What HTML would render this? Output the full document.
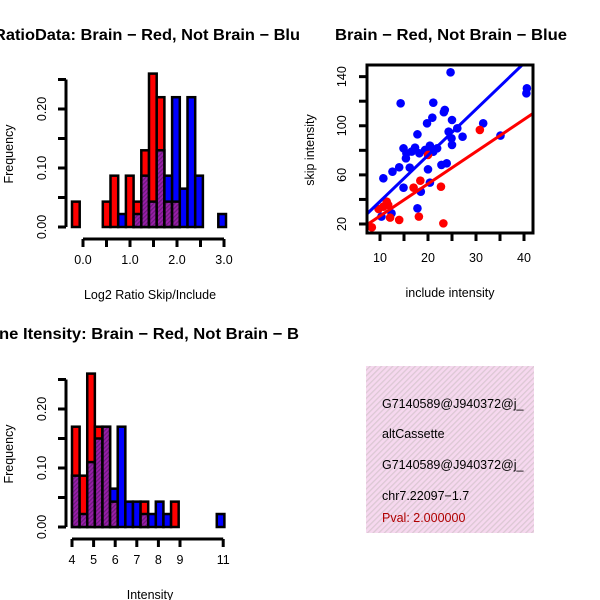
<!DOCTYPE html>
<html><head><meta charset="utf-8"><style>
body{margin:0;background:#fff}
svg{display:block;font-family:"Liberation Sans",sans-serif}
</style></head><body>
<svg id="c" width="600" height="600" viewBox="0 0 600 600">
<defs>
<pattern id="hatch" width="3" height="3" patternUnits="userSpaceOnUse" patternTransform="rotate(45)">
<rect width="3" height="3" fill="#9a1eaa"/><rect width="1.2" height="3" fill="#6a1a7a"/></pattern>
<pattern id="pink" width="4" height="4" patternUnits="userSpaceOnUse" patternTransform="rotate(45)">
<rect width="4" height="4" fill="#f6d8ef"/><rect width="1.3" height="4" fill="#dcc8d4"/></pattern>
<clipPath id="clipL"><rect x="0" y="0" width="300" height="600"/></clipPath>
<clipPath id="clipS"><rect x="367" y="65" width="166" height="168"/></clipPath>
</defs>
<g id="ratio"></g>
<g id="inten"></g>
<g id="scat"></g>
<g>
<rect x="366" y="366" width="168" height="167" fill="url(#pink)"/>
<g font-size="12.5">
<text x="382" y="408" fill="#000">G7140589@J940372@j_</text>
<text x="382" y="438" fill="#000">altCassette</text>
<text x="382" y="469" fill="#000">G7140589@J940372@j_</text>
<text x="382" y="500" fill="#000">chr7.22097−1.7</text>
<text x="382" y="522" fill="#b00000">Pval: 2.000000</text>
</g>
<rect x="534" y="360" width="66" height="180" fill="#fff"/>
</g>
</svg>
<script>
// Ratio histogram data (bin frequencies)
const ratioRed  = [0.043,0,0,0,0.043,0.087,0,0.087,0.043,0.13,0.26,0.22,0.043,0.043,0,0,0,0,0,0];
const ratioBlue = [0,0,0,0,0,0,0.022,0,0.022,0.087,0.043,0.13,0.087,0.22,0.065,0.22,0.087,0,0,0.022];
const ratioXTicks = [0,0.5,1,1.5,2,2.5,3];
const ratioXLabels = ["0.0","1.0","2.0","3.0"];
// Intensity histogram data
const intRed  = [0.17,0.087,0.26,0.17,0.17,0.043,0,0,0,0.043,0,0,0,0.043,0,0,0,0,0,0];
const intBlue = [0.087,0.022,0.11,0.15,0.17,0.065,0.17,0.043,0.043,0.022,0.022,0.043,0.022,0,0,0,0,0,0,0.022];
const intXTicks = [4,5,6,7,8,9,11];
const freqTicks = [0,0.05,0.1,0.15,0.2,0.25];
const freqLabels = ["0.00","0.10","0.20"];
// Scatter data
const blueX = [24.7,14.3,21.1,23.5,23.3,20.9,19.8,25,31.5,26.1,24.3,17.8,27.2,35.1,24.9,25,14.9,17.3,20.4,21.9,15.5,18.2,21.1,15.4,16.2,14,12.6,10.7,20,22.8,23.9,20.4,14.9,18.5,17.8,12.4,10.3,40.6,40.5,16.6,19.4];
const blueY = [143.5,118.3,118.8,112.9,111,106.6,102,104.7,102,97.9,95.2,93,91.1,92,89.8,84.4,81.6,82.2,83.8,81.6,77.6,77.6,78.9,73.5,65.9,66.2,62.6,57.2,64.5,68.1,69.4,53.7,49.6,46.3,32.8,28.7,26,130.5,126.4,79,80.3];
const redX = [8.3,14,12.1,18.1,23.2,22.7,18.4,17,11.4,10.7,9.7,11.7,30.8,20];
const redY = [17.3,23.3,25.2,26,20.5,50.4,55.3,49.6,38.2,34.1,32.2,35.5,96.6,76.2];
const blueFit = [0.9,3.75]; // intercept, slope
const redFit = [0.3,2.62];
const scatXTicks=[10,15,20,25,30,35,40], scatXLabels=[10,20,30,40];
const scatYTicks=[20,40,60,80,100,120,140], scatYLabels=[20,60,100,140];

const NS="http://www.w3.org/2000/svg";
function mk(p,tag,at,txt){const e=document.createElementNS(NS,tag);for(const k in at)e.setAttribute(k,at[k]);if(txt!==undefined)e.textContent=txt;p.appendChild(e);return e;}

function hist(g, red, blue, bx0, bw, y0, ppu, xs, xTicks, xLabels, xTitle, title, titleX, titleY, titleLen, yTitleY){
  const ys=v=>y0-v*ppu;
  const gg=mk(g,'g',{});
  for(let i=0;i<red.length;i++){
    const r=red[i],b=blue[i];if(r===0&&b===0)continue;
    const x=bx0+i*bw, hi=Math.max(r,b), lo=Math.min(r,b);
    const e=mk(gg,'rect',{x:x,y:ys(hi),width:bw,height:y0-ys(hi),fill:r>=b?'#ff0000':'#0000ff',stroke:'#000','stroke-width':2.5});
    
    
    if(lo>0){const o=mk(gg,'rect',{x:x,y:ys(lo),width:bw,height:y0-ys(lo),fill:'url(#hatch)',stroke:'#000','stroke-width':2.5});
      
      }
  }
  const ax=66;
  mk(g,'line',{x1:ax,x2:ax,y1:ys(0),y2:ys(0.25),stroke:'#000','stroke-width':3,});
  freqTicks.forEach(t=>mk(g,'line',{x1:ax-8,x2:ax,y1:ys(t),y2:ys(t),stroke:'#000','stroke-width':3}));
  freqLabels.forEach(l=>{const y=ys(parseFloat(l));const t=mk(g,'text',{x:46,y:y,'font-size':12.5,'text-anchor':'middle',transform:`rotate(-90 46 ${y})`},l);
    });
  mk(g,'text',{x:13,y:yTitleY,'font-size':12.5,'text-anchor':'middle',transform:`rotate(-90 13 ${yTitleY})`,},'Frequency');
  const xa=y0+12;
  mk(g,'line',{x1:xs(xTicks[0]),x2:xs(xTicks[xTicks.length-1]),y1:xa,y2:xa,stroke:'#000','stroke-width':3,});
  xTicks.forEach(t=>mk(g,'line',{x1:xs(t),x2:xs(t),y1:xa,y2:xa+8,stroke:'#000','stroke-width':3}));
  xLabels.forEach(l=>{const t=mk(g,'text',{x:xs(parseFloat(l)),y:xa+25,'font-size':12.5,'text-anchor':'middle'},l);
    });
  mk(g,'text',{x:xTitle[1],y:xa+60,'font-size':12.5,'text-anchor':'middle',},xTitle[0]);
  mk(g,'text',{x:titleX,y:titleY,'font-size':15.5,'font-weight':'bold',textLength:titleLen,lengthAdjust:'spacingAndGlyphs','clip-path':'url(#clipL)',},title);
}
const ratioXs=v=>83+v*47;
hist(document.getElementById('ratio'),ratioRed,ratioBlue,72,7.7,227,590,ratioXs,ratioXTicks,ratioXLabels,['Log2 Ratio Skip/Include',150],'RatioData: Brain − Red, Not Brain − Blu',-6,40,306,154);
const intXs=v=>72+(v-4)*21.6;
hist(document.getElementById('inten'),intRed,intBlue,72,7.62,527,590,intXs,intXTicks,intXTicks.map(String),['Intensity',150],'ne Itensity: Brain − Red, Not Brain − B',-1,339,300,454);

const sg=document.getElementById('scat');
const sx=v=>380+(v-10)*4.8, sy=v=>224-(v-20)*1.228;
mk(sg,'text',{x:335,y:40,'font-size':15.5,'font-weight':'bold',textLength:232,lengthAdjust:'spacingAndGlyphs',},'Brain − Red, Not Brain − Blue');
const cg=mk(sg,'g',{'clip-path':'url(#clipS)'});
blueX.forEach((x,i)=>{const c=mk(cg,'circle',{cx:sx(x),cy:sy(blueY[i]),r:4.3,fill:'#0000ff'});
  });
redX.forEach((x,i)=>{const c=mk(cg,'circle',{cx:sx(x),cy:sy(redY[i]),r:4.3,fill:'#ff0000'});
  });
[[blueFit,'#0000ff','blue-fit-line'],[redFit,'#ff0000','red-fit-line']].forEach(([f,col,n])=>{
  const l=mk(cg,'line',{x1:sx(5),y1:sy(f[0]+f[1]*5),x2:sx(45),y2:sy(f[0]+f[1]*45),stroke:col,'stroke-width':3});
  });
mk(sg,'rect',{x:367,y:65,width:166,height:168,fill:'none',stroke:'#000','stroke-width':3,});
scatXTicks.forEach(t=>mk(sg,'line',{x1:sx(t),x2:sx(t),y1:233,y2:241,stroke:'#000','stroke-width':3}));
scatXLabels.forEach(l=>{const t=mk(sg,'text',{x:sx(l),y:262,'font-size':12.5,'text-anchor':'middle'},String(l));
  });
scatYTicks.forEach(t=>mk(sg,'line',{x1:359,x2:367,y1:sy(t),y2:sy(t),stroke:'#000','stroke-width':3}));
scatYLabels.forEach(l=>{const y=sy(l);const t=mk(sg,'text',{x:346,y:y,'font-size':12.5,'text-anchor':'middle',transform:`rotate(-90 346 ${y})`},String(l));
  });
mk(sg,'text',{x:450,y:297,'font-size':12.5,'text-anchor':'middle',},'include intensity');
mk(sg,'text',{x:314,y:150,'font-size':12.5,'text-anchor':'middle',transform:'rotate(-90 314 150)',},'skip intensity');
</script>
</body></html>
